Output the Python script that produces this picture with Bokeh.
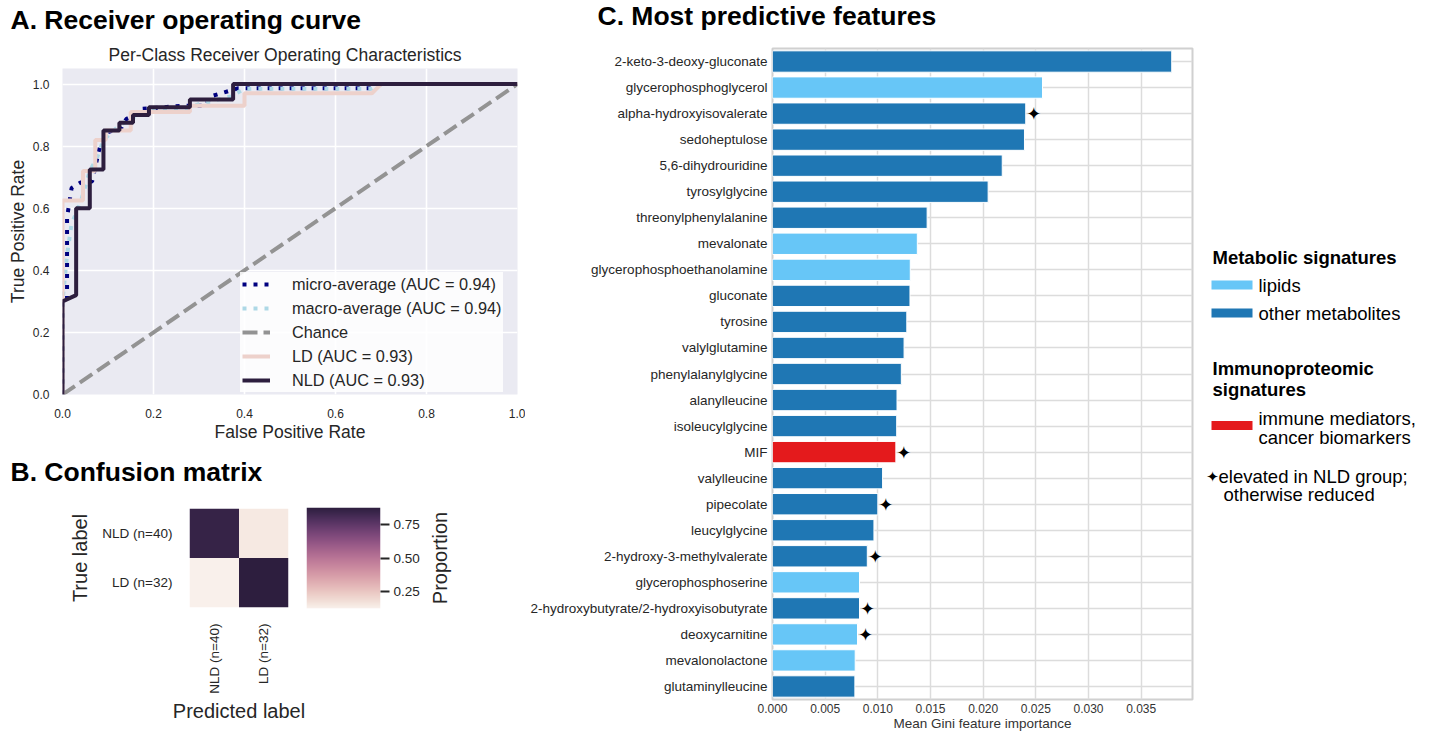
import math
import numpy as np
from bokeh.plotting import figure
from bokeh.models import (Range1d, FactorRange, FixedTicker, NumeralTickFormatter,
                          LinearColorMapper, ColumnDataSource)
from bokeh.layouts import row, column
from bokeh.embed import file_html
from bokeh.resources import INLINE
from bokeh.core.properties import value
from bokeh.transform import linear_cmap

FONT = "Liberation Sans"
TXT = "#262626"

# ---------------- data ----------------
micro_fpr = [0.0, 0.0, 0.01, 0.01, 0.02, 0.04, 0.065, 0.08, 0.085, 0.10, 0.13, 0.14, 0.155, 0.17,
             0.22, 0.265, 0.315, 0.325, 0.355, 0.385, 0.68, 0.70, 1.0]
micro_tpr = [0.0, 0.30, 0.30, 0.57, 0.665, 0.683, 0.686, 0.785, 0.81, 0.845, 0.86, 0.887, 0.898, 0.92,
             0.925, 0.93, 0.93, 0.96, 0.973, 0.986, 0.986, 1.0, 1.0]
macro_fpr = [0.0, 0.0, 0.01, 0.02, 0.04, 0.06, 0.075, 0.09, 0.12, 0.15, 0.19, 0.28, 0.30, 0.37,
             0.40, 0.68, 0.70, 1.0]
macro_tpr = [0.0, 0.30, 0.45, 0.55, 0.62, 0.72, 0.76, 0.82, 0.86, 0.89, 0.915, 0.925, 0.935, 0.96,
             0.985, 0.985, 1.0, 1.0]
chance_fpr = [0.0, 1.0]
chance_tpr = [0.0, 1.0]
ld_fpr = [0.0, 0.0, 0.045, 0.045, 0.072, 0.072, 0.095, 0.095, 0.15, 0.15, 0.28, 0.28, 0.40, 0.40,
          0.68, 0.70, 1.0]
ld_tpr = [0.0, 0.625, 0.625, 0.72, 0.72, 0.82, 0.82, 0.85, 0.85, 0.91, 0.91, 0.93, 0.93, 0.97,
          0.97, 1.0, 1.0]
nld_fpr = [0.0, 0.0, 0.03, 0.03, 0.06, 0.06, 0.09, 0.09, 0.125, 0.125, 0.155, 0.155, 0.19, 0.19,
           0.28, 0.28, 0.375, 0.375, 1.0]
nld_tpr = [0.0, 0.30, 0.32, 0.60, 0.60, 0.725, 0.725, 0.85, 0.85, 0.875, 0.875, 0.90, 0.90, 0.925,
           0.925, 0.95, 0.95, 1.0, 1.0]
roc_ticks = [0.0, 0.2, 0.4, 0.6, 0.8, 1.0]

cm_classes = ["NLD (n=40)", "LD (n=32)"]
cm_true = ["NLD (n=40)", "NLD (n=40)", "LD (n=32)", "LD (n=32)"]
cm_pred = ["NLD (n=40)", "LD (n=32)", "NLD (n=40)", "LD (n=32)"]
cm_prop = [0.85, 0.15, 0.125, 0.875]
cbar_ticks = [0.25, 0.50, 0.75]

features = ["2-keto-3-deoxy-gluconate", "glycerophosphoglycerol", "alpha-hydroxyisovalerate",
            "sedoheptulose", "5,6-dihydrouridine", "tyrosylglycine", "threonylphenylalanine",
            "mevalonate", "glycerophosphoethanolamine", "gluconate", "tyrosine", "valylglutamine",
            "phenylalanylglycine", "alanylleucine", "isoleucylglycine", "MIF", "valylleucine",
            "pipecolate", "leucylglycine", "2-hydroxy-3-methylvalerate", "glycerophosphoserine",
            "2-hydroxybutyrate/2-hydroxyisobutyrate", "deoxycarnitine", "mevalonolactone",
            "glutaminylleucine"]
importance = [0.03790, 0.02563, 0.02404, 0.02392, 0.02181, 0.02047, 0.01468, 0.01375, 0.01308,
              0.01305, 0.01275, 0.01249, 0.01223, 0.01182, 0.01179, 0.01171, 0.01045, 0.01000,
              0.00963, 0.00900, 0.00826, 0.00826, 0.00807, 0.00785, 0.00782]
feature_group = ["other", "lipid", "other", "other", "other", "other", "other", "lipid", "lipid",
                 "other", "other", "other", "other", "other", "other", "immune", "other", "other",
                 "other", "other", "lipid", "other", "lipid", "lipid", "other"]
elevated = [False, False, True, False, False, False, False, False, False, False, False, False,
            False, False, False, True, False, True, False, True, False, True, True, False, False]
gini_ticks = [0.000, 0.005, 0.010, 0.015, 0.020, 0.025, 0.030, 0.035]

group_colors = {"lipid": "#67c6f7", "other": "#1f77b4", "immune": "#e41a1c"}


def cubehelix_hex(n, start=0.0, rot=0.4, gamma=1.0, hue=0.8, light=0.95, dark=0.15):
    x = np.linspace(light, dark, n)
    xg = x ** gamma
    a = hue * xg * (1 - xg) / 2
    phi = 2 * np.pi * (start / 3 + rot * x)
    r = xg + a * (-0.14861 * np.cos(phi) + 1.78277 * np.sin(phi))
    g = xg + a * (-0.29227 * np.cos(phi) - 0.90649 * np.sin(phi))
    b = xg + a * (1.97294 * np.cos(phi))
    out = []
    for rr, gg, bb in zip(r, g, b):
        c = [int(round(255 * min(1, max(0, v)))) for v in (rr, gg, bb)]
        out.append("#%02x%02x%02x" % tuple(c))
    return out


heat_palette = cubehelix_hex(256)
NLD_COLOR = cubehelix_hex(2, light=0.85)[1]
LD_COLOR = cubehelix_hex(2, light=0.85)[0]


def fig(**kw):
    return figure(toolbar_location=None, output_backend="svg", frame_align=False, **kw)


def blank(width, height):
    p = fig(width=width, height=height, x_range=Range1d(0, width), y_range=Range1d(0, height),
            x_axis_type=None, y_axis_type=None, min_border=0)
    p.grid.visible = False
    p.outline_line_color = None
    return p


def style_axis(ax, tick_size, label_size, color=TXT):
    ax.axis_line_color = None
    ax.major_tick_line_color = None
    ax.minor_tick_line_color = None
    ax.major_tick_out = 0
    ax.major_tick_in = 0
    ax.minor_tick_out = 0
    ax.minor_tick_in = 0
    ax.major_label_text_font = FONT
    ax.major_label_text_font_size = tick_size
    ax.major_label_text_color = color
    ax.axis_label_text_font = FONT
    ax.axis_label_text_font_size = label_size
    ax.axis_label_text_font_style = "normal"
    ax.axis_label_text_color = color


def heading(p, x, y, txt):
    p.text(x=[x], y=[y], text=[txt], text_font=value(FONT), text_font_size="26.5px",
           text_font_style="bold", text_color="black", text_baseline="middle")


# ---------------- panel A header ----------------
headA = blank(525, 66)
heading(headA, 10, 46.5, "A. Receiver operating curve")
headA.text(x=[284.5], y=[12], text=["Per-Class Receiver Operating Characteristics"],
           text_font=value(FONT), text_font_size="17.5px", text_color=TXT,
           text_align="center", text_baseline="middle")

# ---------------- panel A ROC ----------------
roc = fig(width=525, height=384, x_range=Range1d(0, 1), y_range=Range1d(0, 1.05),
          min_border_left=62, min_border_right=8, min_border_top=2, min_border_bottom=56,
          background_fill_color="#EAEAF2")
roc.outline_line_color = None
roc.grid.grid_line_color = "white"
roc.grid.grid_line_width = 1.6
roc.xaxis.ticker = FixedTicker(ticks=roc_ticks)
roc.yaxis.ticker = FixedTicker(ticks=roc_ticks)
roc.xaxis.formatter = NumeralTickFormatter(format="0.0")
roc.yaxis.formatter = NumeralTickFormatter(format="0.0")
for ax in (roc.xaxis[0], roc.yaxis[0]):
    style_axis(ax, "12px", "17.5px")
roc.xaxis.major_label_standoff = 14
roc.xaxis.axis_label_standoff = 1
roc.yaxis.major_label_standoff = 13
roc.yaxis.axis_label_standoff = 2
roc.xaxis.axis_label = "False Positive Rate"
roc.yaxis.axis_label = "True Positive Rate"

roc.line(micro_fpr, micro_tpr, line_color="#000080", line_width=4, line_dash="4 7",
         legend_label="micro-average (AUC = 0.94)")
roc.line(macro_fpr, macro_tpr, line_color="#add8e6", line_width=4, line_dash="4 7",
         legend_label="macro-average (AUC = 0.94)")
roc.line(chance_fpr, chance_tpr, line_color="#939393", line_width=4, line_dash="15 6",
         legend_label="Chance")
roc.line(ld_fpr, ld_tpr, line_color=LD_COLOR, line_width=4, legend_label="LD (AUC = 0.93)")
roc.line(nld_fpr, nld_tpr, line_color=NLD_COLOR, line_width=4, legend_label="NLD (AUC = 0.93)")

lg = roc.legend[0]
lg.location = (178, 2)
lg.margin = 0
lg.padding = 2
lg.spacing = 4
lg.glyph_width = 28
lg.glyph_height = 20
lg.label_height = 20
lg.label_standoff = 22
lg.label_text_font = FONT
lg.label_text_font_size = "16.3px"
lg.label_text_color = TXT
lg.background_fill_color = "white"
lg.background_fill_alpha = 0.85
lg.border_line_alpha = 0

# ---------------- panel B header ----------------
headB = blank(525, 36)
heading(headB, 10, 14.7, "B. Confusion matrix")

# ---------------- panel B heatmap ----------------
lo, hi = min(cm_prop), max(cm_prop)
cm_src = ColumnDataSource(dict(true=cm_true, pred=cm_pred, prop=cm_prop))
heat = fig(width=306, height=247, x_range=FactorRange(factors=cm_classes),
           y_range=FactorRange(factors=cm_classes[::-1]),
           min_border_left=189, min_border_right=18, min_border_top=22, min_border_bottom=126)
heat.rect(x="pred", y="true", width=1, height=1, source=cm_src, line_color=None,
          fill_color=linear_cmap("prop", heat_palette, lo, hi))
heat.grid.visible = False
heat.outline_line_color = None
for ax in (heat.xaxis[0], heat.yaxis[0]):
    style_axis(ax, "13.5px", "20px")
heat.xaxis.major_label_orientation = math.pi / 2
heat.xaxis.major_label_standoff = 16
heat.xaxis.axis_label_standoff = 3
heat.yaxis.major_label_standoff = 17
heat.yaxis.axis_label_standoff = 8
heat.xaxis.axis_label = "Predicted label"
heat.yaxis.axis_label = "True label"

# colorbar (gradient + tick axis)
mapper = LinearColorMapper(palette=heat_palette, low=lo, high=hi)
cb = fig(width=119, height=247, x_range=Range1d(0, 1), y_range=Range1d(lo, hi),
         x_axis_type=None, y_axis_location="right",
         min_border_left=0, min_border_right=45, min_border_top=21, min_border_bottom=125)
grad = np.linspace(lo, hi, 256).reshape(256, 1)
cb.image(image=[grad], x=0, y=lo, dw=1, dh=hi - lo, color_mapper=mapper)
cb.grid.visible = False
cb.outline_line_color = None
cax = cb.yaxis[0]
style_axis(cax, "13.5px", "20px")
cax.ticker = FixedTicker(ticks=cbar_ticks)
cax.formatter = NumeralTickFormatter(format="0.00")
cax.major_tick_line_color = TXT
cax.major_tick_line_width = 2
cax.major_tick_out = 9
cax.major_label_standoff = 4

# colorbar title, as a left-side axis label (reads bottom-to-top)
cbl = fig(width=100, height=247, x_range=Range1d(0, 1), y_range=Range1d(lo, hi),
          x_axis_type=None, min_border_left=23, min_border_right=70,
          min_border_top=21, min_border_bottom=125)
cbl.grid.visible = False
cbl.outline_line_color = None
lax = cbl.yaxis[0]
style_axis(lax, "13.5px", "20px")
lax.ticker = FixedTicker(ticks=[])
lax.major_label_standoff = 0
lax.axis_label_standoff = 0
lax.axis_label = "Proportion"

# ---------------- panel C header ----------------
headC = blank(909, 47)
heading(headC, 72, 31.5, "C. Most predictive features")

# ---------------- panel C bars ----------------
bar_src = ColumnDataSource(dict(feature=features, importance=importance,
                                color=[group_colors[g] for g in feature_group]))
star_src = ColumnDataSource(dict(feature=[f for f, e in zip(features, elevated) if e],
                                 importance=[v for v, e in zip(importance, elevated) if e]))
bar = fig(width=675, height=686, y_range=FactorRange(factors=features[::-1]),
          x_range=Range1d(0, max(importance) * 1.052),
          min_border_left=247, min_border_right=8, min_border_top=1, min_border_bottom=33)
bar.hbar(y="feature", left=0, right="importance", height=0.82, fill_color="color",
         line_color="white", line_width=1, source=bar_src)
bar.text(x="importance", y="feature", text=value("\u2726"), source=star_src, x_offset=8,
         text_align="center", text_baseline="middle", text_font=value("DejaVu Sans"),
         text_font_size="18px", text_color="black")
bar.outline_line_color = "#d0d0d0"
bar.outline_line_width = 2
bar.grid.grid_line_color = "#dcdcdc"
bar.grid.grid_line_width = 1.5
bar.xgrid.ticker = FixedTicker(ticks=gini_ticks)
bar.xaxis.ticker = FixedTicker(ticks=gini_ticks)
bar.xaxis.formatter = NumeralTickFormatter(format="0.000")
style_axis(bar.xaxis[0], "12px", "13.5px", "#333333")
style_axis(bar.yaxis[0], "13.5px", "13px", TXT)
bar.xaxis.major_label_standoff = 4
bar.xaxis.axis_label_standoff = 0
bar.xaxis.axis_label = "Mean Gini feature importance"
bar.yaxis.major_label_standoff = 5

# ---------------- panel C legend ----------------
legf = blank(234, 686)
sw_groups = ["lipid", "other", "immune"]
sw_bottom = [444, 416, 303.5]
sw_top = [453, 425, 312.5]
legf.quad(left=11, right=52, bottom=sw_bottom, top=sw_top,
          fill_color=[group_colors[g] for g in sw_groups], line_color=None)
legf.text(x=[12, 12, 12], y=[476, 365, 344],
          text=["Metabolic signatures", "Immunoproteomic", "signatures"],
          text_font=value(FONT), text_font_size="18.5px", text_font_style="bold",
          text_color="black", text_baseline="middle")
legf.text(x=[58, 58, 58, 58, 18, 23], y=[448, 420, 315, 296, 257, 239],
          text=["lipids", "other metabolites", "immune mediators,", "cancer biomarkers",
                "elevated in NLD group;", "otherwise reduced"],
          text_font=value(FONT), text_font_size="18.5px", text_color="black",
          text_baseline="middle")
legf.text(x=[12], y=[257], text=["\u2726"], text_font=value("DejaVu Sans"),
          text_font_size="15px", text_color="black", text_align="center",
          text_baseline="middle")

left = column(headA, roc, headB, row(heat, cb, cbl))
right = column(headC, row(bar, legf))
page = row(left, right)

open("out.html", "w").write(file_html(page, INLINE))
